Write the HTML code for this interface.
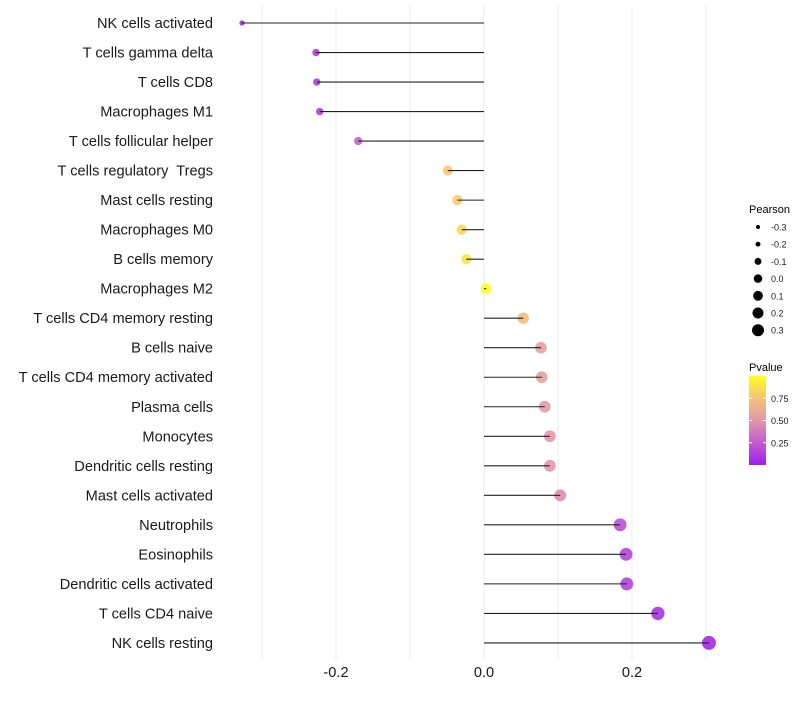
<!DOCTYPE html>
<html><head><meta charset="utf-8"><style>
body{margin:0;background:#fff;font-family:"Liberation Sans",sans-serif}
svg text{font-family:"Liberation Sans",sans-serif;white-space:pre}
</style></head><body>
<svg id="c" width="800" height="700">
<defs><linearGradient id="pg" x1="0" y1="1" x2="0" y2="0">
<stop offset="0" stop-color="#a01ff0"/><stop offset="0.5" stop-color="#e497a8"/><stop offset="0.75" stop-color="#f2c27c"/><stop offset="1" stop-color="#ffff20"/></linearGradient></defs>
<g id="grid"></g><g id="marks"></g><g id="axes"></g><g id="legend"></g>
</svg>
<script>
const categories=["NK cells activated","T cells gamma delta","T cells CD8","Macrophages M1","T cells follicular helper","T cells regulatory  Tregs","Mast cells resting","Macrophages M0","B cells memory","Macrophages M2","T cells CD4 memory resting","B cells naive","T cells CD4 memory activated","Plasma cells","Monocytes","Dendritic cells resting","Mast cells activated","Neutrophils","Eosinophils","Dendritic cells activated","T cells CD4 naive","NK cells resting"];
const pearson=[-0.327,-0.227,-0.226,-0.222,-0.170,-0.049,-0.036,-0.030,-0.024,0.003,0.053,0.077,0.078,0.082,0.089,0.089,0.103,0.184,0.192,0.193,0.235,0.304];
const pvalue=[0.05,0.12,0.12,0.13,0.28,0.78,0.8,0.85,0.9,0.99,0.72,0.55,0.55,0.52,0.5,0.5,0.45,0.2,0.16,0.15,0.08,0.04];
const xTicks=[-0.2,0.0,0.2];
const xTickLabels=["-0.2","0.0","0.2"];
const xMinor=[-0.3,-0.1,0.1,0.3];
const sizeLegend=[-0.3,-0.2,-0.1,0.0,0.1,0.2,0.3];
const sizeLegendLabels=["-0.3","-0.2","-0.1","0.0","0.1","0.2","0.3"];
const pTicks=[0.25,0.5,0.75];
const pTickLabels=["0.25","0.50","0.75"];

const NS="http://www.w3.org/2000/svg";
const x=v=>484+v*740;
const y=i=>23+i*29.52;
const r=p=>Math.sqrt(Math.max(1,28.8+66.5*p));
const stops=[[0,[160,31,240]],[0.5,[228,151,168]],[0.75,[242,194,124]],[1,[255,255,32]]];
function col(p){for(let k=1;k<stops.length;k++){if(p<=stops[k][0]){const a=stops[k-1],b=stops[k],t=(p-a[0])/(b[0]-a[0]);return "rgb("+a[1].map((c,j)=>Math.round(c+(b[1][j]-c)*t)).join(",")+")";}}return "rgb(255,255,32)";}
function mk(tag,at,parent){const e=document.createElementNS(NS,tag);for(const k in at)e.setAttribute(k,at[k]);document.getElementById(parent).appendChild(e);return e;}
[...xTicks,...xMinor].forEach(v=>{const l=mk("line",{x1:x(v),x2:x(v),y1:5,y2:660,stroke:"#ebebeb","stroke-width":1},"grid");

});
categories.forEach((c,i)=>{
 const p=mk("circle",{cx:x(pearson[i]),cy:y(i),r:r(pearson[i]),fill:col(pvalue[i]),"fill-opacity":0.9},"marks");
 
 
 const s=mk("line",{x1:x(0),x2:x(pearson[i]),y1:y(i),y2:y(i),stroke:"#222","stroke-width":1.1},"marks");
 
 
 const t=mk("text",{x:213,y:y(i)+5,"text-anchor":"end","font-size":14.6,fill:"#1a1a1a"},"axes");t.textContent=c;
 
 
});
xTicks.forEach((v,i)=>{const t=mk("text",{x:x(v),y:677,"text-anchor":"middle","font-size":14.6,fill:"#1a1a1a"},"axes");t.textContent=xTickLabels[i];

});
let t=mk("text",{x:749,y:213,"font-size":11,fill:"#000"},"legend");t.textContent="Pearson";


sizeLegend.forEach((v,i)=>{const yy=227+i*17.2;
 const c=mk("circle",{cx:758,cy:yy,r:Math.sqrt(Math.max(4,18+60*v)),fill:"#000"},"legend");
 
 
 const l=mk("text",{x:771,y:yy+3.5,"font-size":9,fill:"#1a1a1a"},"legend");l.textContent=sizeLegendLabels[i];
 
 });
t=mk("text",{x:749,y:371,"font-size":11,fill:"#000"},"legend");t.textContent="Pvalue";


const bar=mk("rect",{x:749,y:376,width:17,height:89,fill:"url(#pg)"},"legend");


pTicks.forEach((v,i)=>{const yy=465-v*89;
 mk("line",{x1:749,x2:752,y1:yy,y2:yy,stroke:"#fff"},"legend");mk("line",{x1:763,x2:766,y1:yy,y2:yy,stroke:"#fff"},"legend");
 const l=mk("text",{x:771,y:yy+3.5,"font-size":9,fill:"#1a1a1a"},"legend");l.textContent=pTickLabels[i];
 
 });
</script>
</body></html>
